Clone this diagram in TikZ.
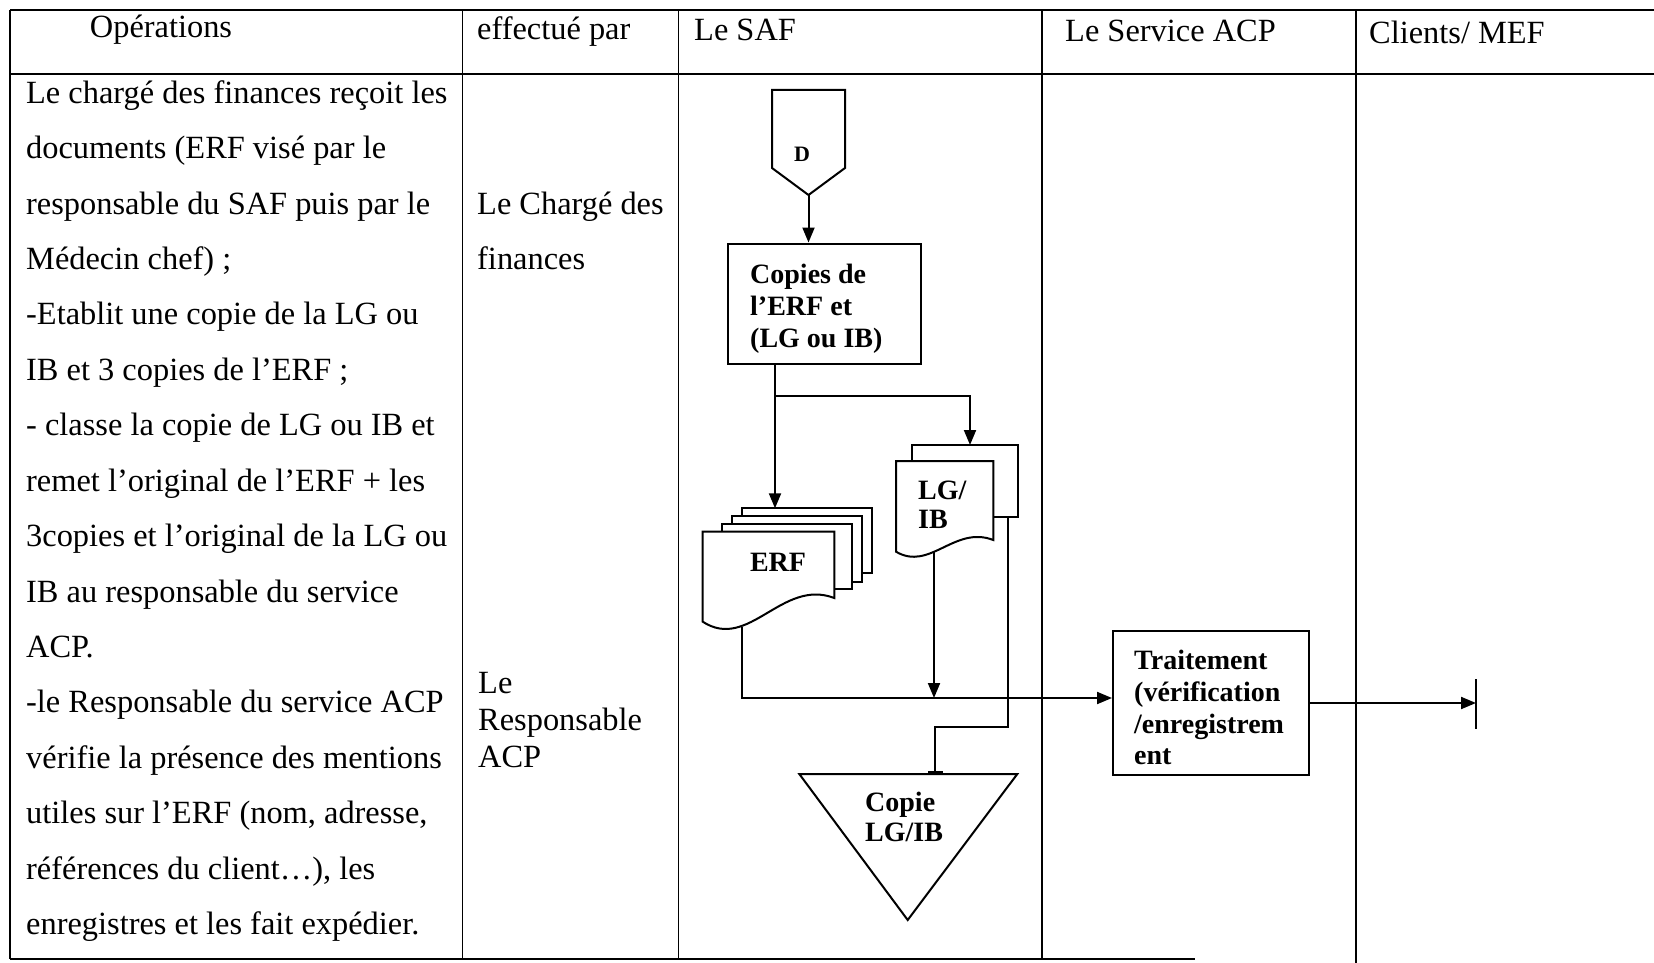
\documentclass[tikz,border=0pt]{standalone}
\usepackage{fontspec}
\setmainfont{Liberation Serif}
\usetikzlibrary{arrows.meta}
\begin{document}
\begin{tikzpicture}[x=1pt,y=-1pt,
  tbl/.style={line width=1.5pt},
  fl/.style={line width=2pt},
  arr/.style={fl,-{Triangle[length=15pt,width=12pt]}},
  opt/.style={anchor=base west,inner sep=0pt,font=\fontsize{32.4}{40}\selectfont},
  hdr/.style={anchor=base west,inner sep=0pt,font=\fontsize{32.4}{40}\selectfont},
  bt/.style={anchor=base west,inner sep=0pt,font=\fontsize{28}{32}\selectfont\bfseries},
  boxst/.style={fl,draw,fill=white,inner sep=0pt}]
\useasboundingbox (0,0) rectangle (1654,963);
% table
\draw[tbl] (10,10) -- (1654,10);
\draw[tbl] (10,74) -- (1654,74);
\draw[tbl] (10,959) -- (1195,959);
\draw[tbl] (10,10) -- (10,959);
\draw[tbl] (462.7,10) -- (462.7,959);
\draw[tbl] (678.3,10) -- (678.3,959);
\draw[tbl] (1042,10) -- (1042,959);
\draw[tbl] (1356,10) -- (1356,963);
% headers
\node (h1) [hdr,anchor=base] at (161,38) {Opérations};
\node (h2) [hdr] at (477,40) {effectué par};
\node (h3) [hdr] at (694,41) {Le SAF};
\node (h4) [hdr] at (1065,42) {Le Service ACP};
\node (h5) [hdr] at (1369,44) {Clients/ MEF};
% operations column
\node (o1) [opt] at (26,103.3) {Le chargé des finances reçoit les};
\node (o2) [opt] at (26,158.7) {documents (ERF visé par le};
\node (o3) [opt] at (26,214.1) {responsable du SAF puis par le};
\node (o4) [opt] at (26,269.5) {Médecin chef) ;};
\node (o5) [opt] at (26,324.9) {-Etablit une copie de la LG ou};
\node (o6) [opt] at (26,380.4) {IB et 3 copies de l’ERF ;};
\node (o7) [opt] at (26,435.8) {- classe la copie de LG ou IB et};
\node (o8) [opt] at (26,491.2) {remet l’original de l’ERF + les};
\node (o9) [opt] at (26,546.6) {3copies et l’original de la LG ou};
\node (o10) [opt] at (26,602) {IB au responsable du service};
\node (o11) [opt] at (26,657.4) {ACP.};
\node (o12) [opt] at (26,712.8) {-le Responsable du service ACP};
\node (o13) [opt] at (26,768.2) {vérifie la présence des mentions};
\node (o14) [opt] at (26,823.6) {utiles sur l’ERF (nom, adresse,};
\node (o15) [opt] at (26,879.1) {références du client…), les};
\node (o16) [opt] at (26,934.5) {enregistres et les fait expédier.};
% effectue par column
\node (e1) [opt] at (477,214.1) {Le Chargé des};
\node (e2) [opt] at (477,269.5) {finances};
\node (e3) [opt] at (478,693.7) {Le};
\node (e4) [opt] at (478,730.7) {Responsable};
\node (e5) [opt] at (478,767.7) {ACP};
% D connector
\draw[fl] (772,90) -- (845,90) -- (845,168) -- (808.5,195) -- (772,168) -- cycle;
\coordinate (Dtip) at (808.5,195);
\node (dtxt) [anchor=base,inner sep=0pt,font=\fontsize{22}{26}\selectfont\bfseries] at (802,161) {D};
% box copies
\node (box1) [boxst,minimum width=193pt,minimum height=120pt] at (824.5,303.5) {};
\node (b1a) [bt] at (750,283) {Copies de};
\node (b1b) [bt] at (750,315) {l’ERF et};
\node (b1c) [bt] at (750,347) {(LG ou IB)};
\draw[arr] (Dtip) -- (Dtip |- box1.north);
% ERF stack
\draw[fl,fill=white] (741.7,508.3) rectangle (871.7,573.3);
\draw[fl,fill=white] (731.7,516) rectangle (861.7,581.7);
\draw[fl,fill=white] (721.7,524) rectangle (851.7,589.3);
\draw[fl,fill=white] (834.3,598) -- (834.3,531.7) -- (702.7,531.7) -- (702.7,621.7)
  .. controls (748.8,651.7) and (781.9,578) .. (834.3,598) -- cycle;
\node (erft) [bt,anchor=base] at (778,571.7) {ERF};
\coordinate (erfTop) at (775,508.3);
\coordinate (erfBot) at (741.5,627);
% LG/IB stack
\draw[fl,fill=white] (911.7,445) rectangle (1018.3,516.7);
\draw[fl,fill=white] (993.3,540) -- (993.3,461) -- (896,461) -- (896,551.7)
  .. controls (930,571.7) and (954.4,525) .. (993.3,540) -- cycle;
\node (lg1) [bt] at (918,499) {LG/};
\node (lg2) [bt] at (918,528) {IB};
\coordinate (lgTop) at (970,445);
\coordinate (lgBot) at (934,552);
\coordinate (lgBack) at (1008,516.7);
% connectors from box1
\draw[arr] (box1.south -| erfTop) -- (erfTop);
\coordinate (br) at (775,396);
\draw[arr] (br) -| (lgTop);
% triangle
\draw[fl] (799.3,774) -- (1017.3,774) -- (907.7,920) -- cycle;
\coordinate (triTop) at (935,774);
\node (t1) [bt] at (865,811) {Copie};
\node (t2) [bt] at (865,841) {LG/IB};
% Traitement
\node (trt) [boxst,minimum width=196pt,minimum height=144pt] at (1211,703) {};
\node (tr1) [bt] at (1134,669) {Traitement};
\node (tr2) [bt] at (1134,701) {(vérification};
\node (tr3) [bt] at (1134,733) {/enregistrem};
\node (tr4) [bt] at (1134,764) {ent};
\coordinate (trtIn) at ([yshift=5pt]trt.west);
\draw[arr] (erfBot) |- (trtIn);
\draw[arr] (lgBot) -- (lgBot |- trtIn);
\coordinate (bend) at (1008,727);
\draw[fl,-{Bar[width=15pt,line width=3.5pt]}] (lgBack) -- (bend) -| (triTop);
% output
\coordinate (endpt) at (1476,703);
\draw[arr] (trt.east) -- (endpt);
\draw[fl] ([yshift=24pt]endpt) -- ([yshift=-26pt]endpt);
\end{tikzpicture}
\end{document}
